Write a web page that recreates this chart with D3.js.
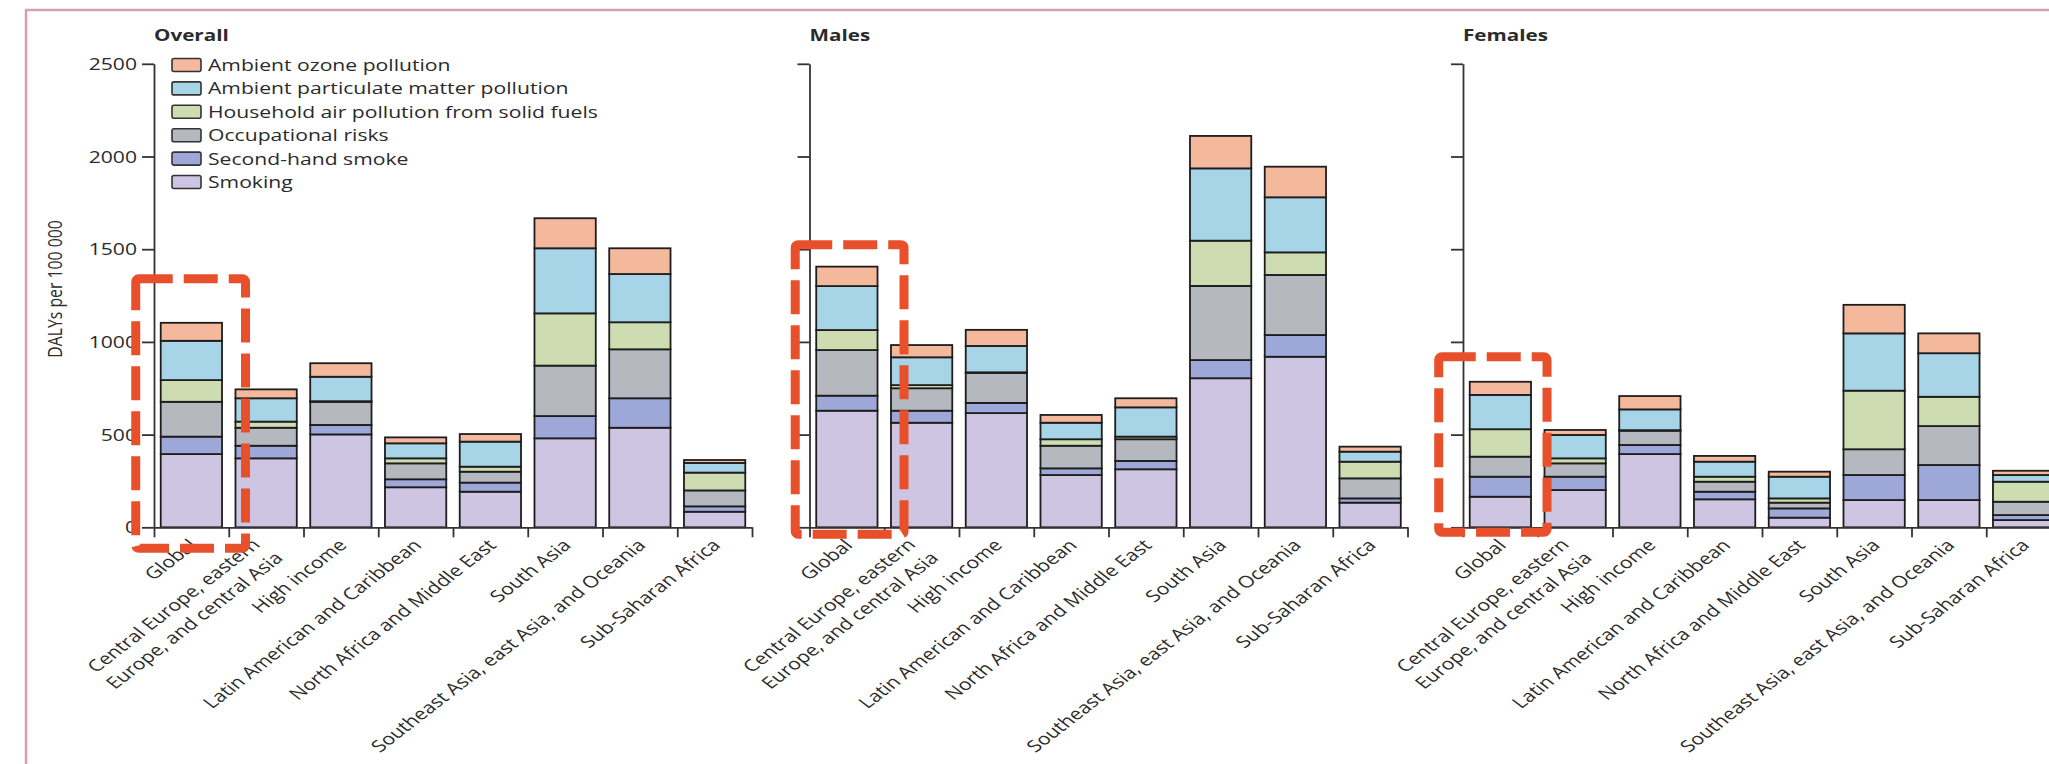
<!DOCTYPE html>
<html><head><meta charset="utf-8">
<script src="https://cdn.jsdelivr.net/npm/d3@7"></script>
<style>body{margin:0;background:#fff;overflow:hidden}</style>
</head><body>
<svg id="chart" width="2049" height="764"></svg>
<script>
// ---------------- DATA ----------------
const categories = ["Global","Central Europe, eastern Europe, and central Asia","High income","Latin American and Caribbean","North Africa and Middle East","South Asia","Southeast Asia, east Asia, and Oceania","Sub-Saharan Africa"];
const categoryLines = [["Global"],["Central Europe, eastern","Europe, and central Asia"],["High income"],["Latin American and Caribbean"],["North Africa and Middle East"],["South Asia"],["Southeast Asia, east Asia, and Oceania"],["Sub-Saharan Africa"]];
const seriesNames = ["Smoking","Second-hand smoke","Occupational risks","Household air pollution from solid fuels","Ambient particulate matter pollution","Ambient ozone pollution"];
const seriesColors = ["#cdc5e1","#9da8d8","#b5b9bf","#cddcb1","#a7d4e6","#f4b89d"];
const panelTitles = ["Overall","Males","Females"];
const yTicks = [0,500,1000,1500,2000,2500];
const yLabel = "DALYs per 100 000";

// Overall
const overallSmoking   = [395,372,501,216,192,480,537,84];
const overallSecond    = [94,68,51,43,49,120,159,29];
const overallOccup     = [188,97,125,86,59,272,264,86];
const overallHousehold = [117,33,3,27,27,282,146,96];
const overallParticle  = [212,126,132,81,135,351,260,52];
const overallOzone     = [97,48,73,32,41,162,139,16];
// Males
const malesSmoking   = [629,564,616,282,313,804,920,133];
const malesSecond    = [81,65,55,36,45,98,117,23];
const malesOccup     = [246,121,162,122,117,400,324,108];
const malesHousehold = [108,17,3,35,14,244,122,90];
const malesParticle  = [237,150,142,89,158,390,297,54];
const malesOzone     = [105,66,87,42,49,175,165,27];
// Females
const femalesSmoking   = [165,201,395,151,52,147,147,39];
const femalesSecond    = [108,72,49,41,50,135,189,27];
const femalesOccup     = [108,72,77,54,31,139,210,72];
const femalesHousehold = [148,27,3,27,23,316,158,108];
const femalesParticle  = [185,126,112,81,117,309,235,36];
const femalesOzone     = [71,27,72,31,27,154,107,23];

// ---------------- LAYOUT ----------------
const SX = 1.29;               // horizontal text stretch seen in the reference
const FONT = "'Open Sans', 'Noto Sans', sans-serif";
const TXT = "#2b2b2b";
const panelLeft = [154, 809.5, 1463];
const panelWidth = 598;
const yTop = 63.8, yBottom = 527.3;
const boxes = [ // dashed highlight offsets around the Global bar (px)
  {l:-25, r:23.5, t:-44, b:21},
  {l:-21, r:26.5, t:-22, b:7},
  {l:-31, r:16, t:-25, b:5}
];

const panelData = [
  [overallSmoking, overallSecond, overallOccup, overallHousehold, overallParticle, overallOzone],
  [malesSmoking, malesSecond, malesOccup, malesHousehold, malesParticle, malesOzone],
  [femalesSmoking, femalesSecond, femalesOccup, femalesHousehold, femalesParticle, femalesOzone]
];

const svg = d3.select("#chart");

// frame
svg.append("rect").attr("x",26).attr("y",10).attr("width",2100).attr("height",800)
  .attr("fill","none").attr("stroke","#d6a1ac").attr("stroke-width",2.5);

const y = d3.scaleLinear().domain([0,2500]).range([yBottom,yTop]);
const color = d3.scaleOrdinal().domain(seriesNames).range(seriesColors);

function stretchedText(g, x, yy, str, opts={}) {
  const t = g.append("text")
    .attr("transform", `translate(${x},${yy}) scale(${SX},1)` + (opts.rotate ? ` rotate(${opts.rotate})` : ""))
    .attr("font-family", FONT)
    .attr("font-size", opts.size || 16.4)
    .attr("font-weight", opts.weight || 400)
    .attr("fill", TXT)
    .attr("text-anchor", opts.anchor || "start");
  if (opts.baseline) t.attr("dominant-baseline", opts.baseline);
  t.text(str);
  return t;
}

panelData.forEach((arrs, p) => {
  const left = panelLeft[p];
  const g = svg.append("g");
  const x = d3.scaleBand().domain(categories).range([left, left+panelWidth])
    .paddingInner(0.18).paddingOuter(0.09);
  const bw = x.bandwidth();

  const rows = categories.map((c,i) => {
    const r = {cat:c};
    seriesNames.forEach((s,k) => r[s] = arrs[k][i]);
    return r;
  });
  const stacked = d3.stack().keys(seriesNames)(rows);

  // bars
  g.selectAll("g.layer").data(stacked).join("g").attr("class","layer")
    .attr("fill", d => color(d.key))
    .selectAll("rect").data(d => d).join("rect")
    .attr("x", d => x(d.data.cat))
    .attr("y", d => y(d[1]))
    .attr("width", bw)
    .attr("height", d => Math.max(0, y(d[0]) - y(d[1])))
    .attr("stroke", "#1d1d1d")
    .attr("stroke-width", 1.8);

  // y axis
  const yAxis = d3.axisLeft(y).tickValues(yTicks).tickSize(12).tickSizeOuter(0)
    .tickFormat(p === 0 ? d3.format("d") : "");
  const ya = g.append("g").attr("transform", `translate(${left},0)`).call(yAxis);
  ya.selectAll("path,line").attr("stroke","#333").attr("stroke-width",1.8);
  ya.selectAll("text").remove();
  if (p === 0) {
    yTicks.forEach(v => stretchedText(g, left - 17, y(v), String(v), {anchor:"end", baseline:"central", size:16.4}));
  }

  // x axis (category boundaries)
  const bScale = d3.scaleLinear().domain([0, categories.length]).range(x.range());
  const xa = g.append("g").attr("transform", `translate(0,${y(0)})`)
    .call(d3.axisBottom(bScale).tickValues(d3.range(categories.length+1)).tickSize(10).tickSizeOuter(0).tickFormat(""));
  xa.selectAll("path,line").attr("stroke","#333").attr("stroke-width",1.8);

  // category labels
  categories.forEach((c,i) => {
    const cx = x(c) + bw/2 + 7, cy = y(0) + 19;
    const lines = categoryLines[i];
    const t = g.append("text")
      .attr("transform", `translate(${cx},${cy}) scale(${SX},1) rotate(-45)`)
      .attr("font-family", FONT).attr("font-size", 16.4).attr("fill", TXT)
      .attr("text-anchor","end");
    if (lines.length === 1) {
      t.text(lines[0]);
    } else {
      t.append("tspan").attr("x",-6).attr("y",-7).text(lines[0]);
      t.append("tspan").attr("x",-3).attr("y",15).text(lines[1]);
    }
  });

  // panel title
  stretchedText(g, left, 41, panelTitles[p], {weight:700, size:16});

  // dashed highlight
  const bx = boxes[p];
  const gx = x(categories[0]), gTop = y(d3.sum(arrs, a => a[0]));
  g.append("rect")
    .attr("x", gx + bx.l).attr("y", gTop + bx.t)
    .attr("width", bw - bx.l + bx.r).attr("height", y(0) + bx.b - (gTop + bx.t))
    .attr("fill","none").attr("stroke","#e8502b").attr("stroke-width",9)
    .attr("stroke-dasharray","34 11").attr("rx",3);
});

// y-axis label
stretchedText(svg, 54, 289, yLabel, {rotate:-90, anchor:"middle", baseline:"central", size:15.8});

// legend
const legendItems = seriesNames.slice().reverse();
const lg = svg.append("g");
legendItems.forEach((s,i) => {
  const cy = 65 + i*23.4;
  lg.append("rect").attr("x",172).attr("y",cy-6.5).attr("width",29).attr("height",13).attr("rx",2)
    .attr("fill", color(s)).attr("stroke","#333").attr("stroke-width",1.6);
  stretchedText(lg, 208, cy, s, {baseline:"central", size:16.4});
});
</script>
</body></html>
